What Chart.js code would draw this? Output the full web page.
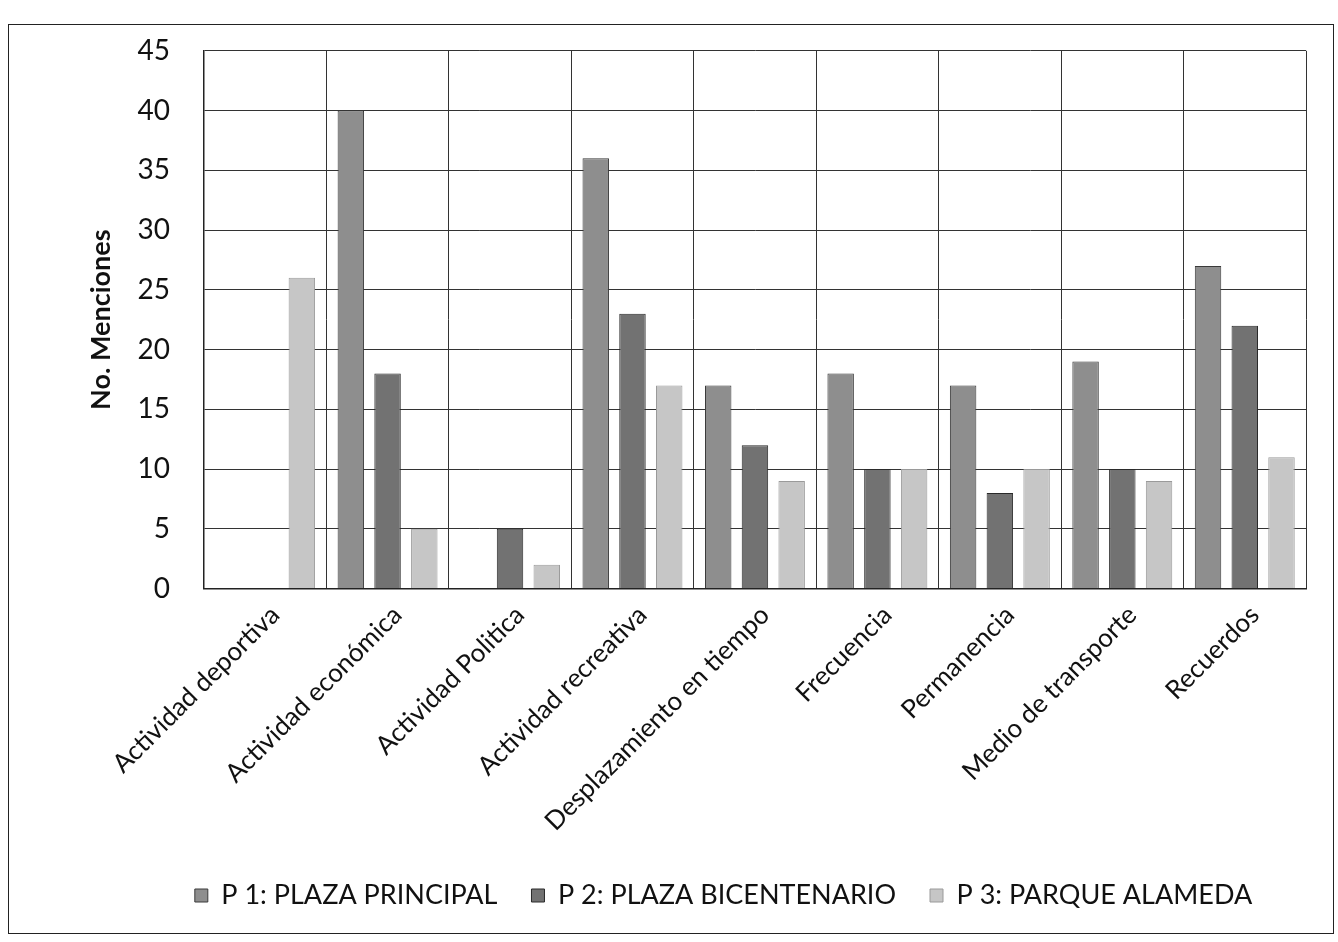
<!DOCTYPE html>
<html>
<head>
<meta charset="utf-8">
<script src="https://cdn.jsdelivr.net/npm/chart.js@4"></script>
<style>
  html, body { margin: 0; padding: 0; background: #fff; }
  #wrap { position: relative; width: 1338px; height: 942px; }
  #frame { position: absolute; left: 8px; top: 24px; width: 1326px; height: 910px; border: 1.5px solid #222; pointer-events: none; box-sizing: border-box; }
</style>
</head>
<body>
<div id="wrap">
  <canvas id="c" width="1338" height="942"></canvas>
  <div id="frame"></div>
</div>
<script>
const categories = ["Actividad deportiva", "Actividad económica", "Actividad Politica", "Actividad recreativa", "Desplazamiento en tiempo", "Frecuencia", "Permanencia", "Medio de transporte", "Recuerdos"];
const seriesNames = ["P 1: PLAZA PRINCIPAL", "P 2: PLAZA BICENTENARIO", "P 3: PARQUE ALAMEDA"];
const p1Values = [0, 40, 0, 36, 17, 18, 17, 19, 27];
const p2Values = [0, 18, 5, 23, 12, 10, 8, 10, 22];
const p3Values = [26, 5, 2, 17, 9, 10, 10, 9, 11];
const yTicks = [0, 5, 10, 15, 20, 25, 30, 35, 40, 45];

const FONT = "Lato, 'Open Sans', sans-serif";

const shiftLegend = {
  id: 'shiftLegend',
  afterLayout(chart) {
    const lg = chart.legend;
    if (lg) { lg.left += 30; lg.right += 30; }
  }
};

new Chart(document.getElementById('c'), {
  type: 'bar',
  data: {
    labels: categories,
    datasets: [
      { label: seriesNames[0], data: p1Values, backgroundColor: '#8e8e8e', borderColor: '#3a3a3a', borderWidth: 1 },
      { label: seriesNames[1], data: p2Values, backgroundColor: '#727272', borderColor: '#2a2a2a', borderWidth: 1 },
      { label: seriesNames[2], data: p3Values, backgroundColor: '#c6c6c6', borderColor: '#9a9a9a', borderWidth: 1 }
    ]
  },
  plugins: [shiftLegend],
  options: {
    responsive: false,
    animation: false,
    devicePixelRatio: 1,
    layout: { padding: { left: 81, right: 32, top: 38, bottom: 23 } },
    datasets: { bar: { categoryPercentage: 0.9, barPercentage: 0.72 } },
    plugins: {
      legend: {
        position: 'bottom',
        labels: { font: { family: FONT, size: 27 }, color: '#111', boxWidth: 13, boxHeight: 13, padding: 34 }
      },
      tooltip: { enabled: false }
    },
    scales: {
      x: {
        grid: { color: '#333', lineWidth: 1, drawTicks: false },
        border: { color: '#222', width: 1.5 },
        ticks: { font: { family: FONT, size: 26 }, color: '#111', maxRotation: 45, minRotation: 45, padding: 11, labelOffset: 10 }
      },
      y: {
        min: 0, max: 45,
        afterBuildTicks: (axis) => { axis.ticks = yTicks.map(v => ({ value: v })); },
        grid: { color: '#333', lineWidth: 1, drawTicks: false },
        border: { color: '#222', width: 1.5 },
        ticks: { font: { family: FONT, size: 28 }, color: '#111', padding: 34 },
        title: { display: true, text: 'No. Menciones', font: { family: FONT, size: 27, weight: 'bold' }, color: '#111', padding: { top: 4, bottom: -14 } }
      }
    }
  }
});
</script>
</body>
</html>
